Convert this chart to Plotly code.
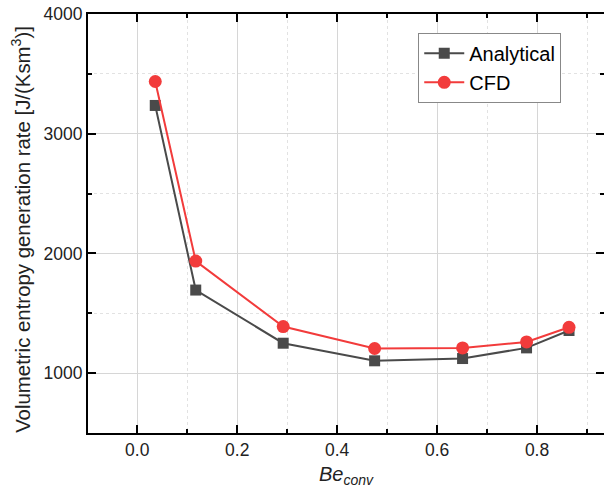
import plotly.graph_objects as go

be_analytical = [0.036, 0.117, 0.292, 0.475, 0.651, 0.779, 0.864]
s_analytical = [3236, 1694, 1250, 1103, 1122, 1211, 1356]
be_cfd = [0.036, 0.117, 0.292, 0.475, 0.651, 0.779, 0.864]
s_cfd = [3436, 1936, 1389, 1206, 1211, 1261, 1383]

x_ticks = [0.0, 0.2, 0.4, 0.6, 0.8]
x_tick_labels = ["0.0", "0.2", "0.4", "0.6", "0.8"]
y_ticks = [1000, 2000, 3000, 4000]
y_tick_labels = ["1000", "2000", "3000", "4000"]

FONT = "Liberation Sans, Arial, sans-serif"
GRAY = "#4a4a4a"
RED = "#f23b3b"

fig = go.Figure()
fig.add_trace(go.Scatter(
    x=be_analytical, y=s_analytical, name="Analytical", mode="lines+markers",
    line=dict(color=GRAY, width=2),
    marker=dict(symbol="square", size=11, color=GRAY),
))
fig.add_trace(go.Scatter(
    x=be_cfd, y=s_cfd, name="CFD", mode="lines+markers",
    line=dict(color=RED, width=2),
    marker=dict(symbol="circle", size=13, color=RED),
))

axis_common = dict(
    showline=True, linecolor="black", linewidth=2, mirror="ticks",
    ticks="inside", ticklen=8, tickwidth=1.5, tickcolor="black",
    showgrid=True, gridcolor="#d6d6d6", gridwidth=1,
    zeroline=False,
    tickfont=dict(family=FONT, size=17.5, color="#222"),
)

fig.update_xaxes(
    **axis_common,
    range=[-0.0986, 0.934],
    tickvals=x_ticks, ticktext=x_tick_labels,
    minor=dict(dtick=0.1, tick0=0.1, ticks="inside", ticklen=4, tickcolor="black",
               showgrid=True, gridcolor="#e2e2e2", griddash="dot"),
    title=dict(text="<i>Be</i><sub><i>conv</i></sub>", font=dict(family=FONT, size=20, color="#222"),
               standoff=8),
)
fig.update_yaxes(
    **axis_common,
    range=[500, 4000],
    tickvals=y_ticks, ticktext=y_tick_labels,
    minor=dict(dtick=500, tick0=500, ticks="inside", ticklen=4, tickcolor="black",
               showgrid=True, gridcolor="#e2e2e2", griddash="dot"),
)

fig.add_annotation(
    text="Volumetric entropy generation rate [J/(Ksm<sup>3</sup>)]",
    textangle=-90, xref="paper", yref="paper", x=-0.13, y=0.487,
    xanchor="center", yanchor="middle", showarrow=False,
    font=dict(family=FONT, size=20.4, color="#222"),
)

fig.update_layout(
    width=604, height=499,
    margin=dict(l=88, r=0, t=14, b=66, autoexpand=False),
    paper_bgcolor="white", plot_bgcolor="white",
    showlegend=True,
    legend=dict(
        x=0.64, y=0.955, xanchor="left", yanchor="top",
        bgcolor="white", bordercolor="#888", borderwidth=1,
        font=dict(family=FONT, size=20, color="black"),
        tracegroupgap=0, itemwidth=40,
    ),
)

fig.write_html(
    "out.html",
    config={"displayModeBar": False},
    post_script="document.body.style.margin='0';document.body.style.overflow='hidden';",
)
